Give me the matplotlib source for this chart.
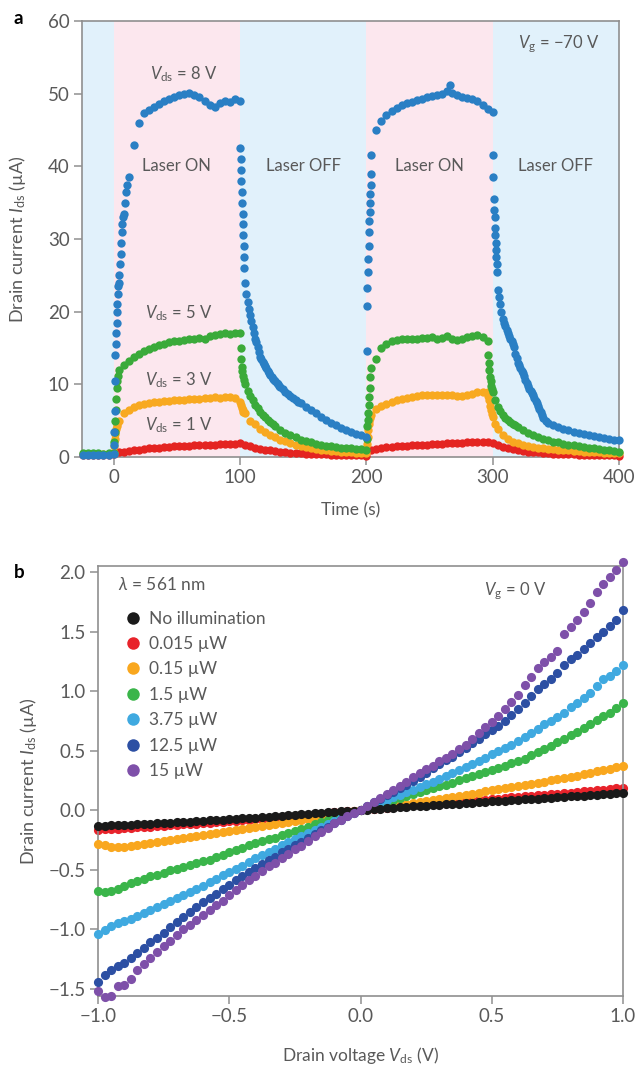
import numpy as np
import matplotlib
matplotlib.use("Agg")
import matplotlib.pyplot as plt
from matplotlib.lines import Line2D
from matplotlib.ticker import FuncFormatter

plt.rcParams["font.family"] = ["Lato", "DejaVu Sans"]
plt.rcParams["mathtext.fontset"] = "custom"
plt.rcParams["mathtext.rm"] = "Lato"
plt.rcParams["mathtext.it"] = "Lato:italic"
plt.rcParams["mathtext.fallback"] = "stixsans"

# ---------------- panel a: photocurrent vs time ----------------
t_grid = np.arange(-24, 401, 4)          # sampling instants (s)
laser_on = [(0, 100), (200, 300)]

i_8v = [0.3, 0.3, 0.25, 0.3, 0.3, 0.3,
        0.4,
        24.0, 33.5, 38.5, 43.0, 46.0, 47.3, 47.8, 48.2, 48.6, 49.0, 49.3, 49.6,
        49.8, 50.0, 50.1, 49.8, 49.6, 49.0, 48.4, 48.1, 48.7, 49.0, 48.8, 49.2,
        49.0,
        24.0, 19.5, 16.3, 13.8, 12.5, 11.3, 10.4, 9.7, 9.0, 8.4, 7.9, 7.4,
        6.9, 6.4, 6.0, 5.5, 5.1, 4.7, 4.4, 4.0, 3.7, 3.4, 3.2, 3.0,
        2.7,
        41.5, 45.0, 46.2, 47.0, 47.6, 48.0, 48.4, 48.7, 48.9, 49.1, 49.3, 49.5,
        49.7, 49.8, 50.0, 50.4, 50.1, 49.8, 49.6, 49.4, 49.2, 49.0, 48.5, 47.9,
        47.5,
        23.0, 19.0, 17.0, 15.5, 13.0, 11.5, 9.8, 8.5, 7.0, 5.4, 4.7, 4.4,
        4.1, 3.9, 3.7, 3.5, 3.35, 3.2, 3.05, 2.9, 2.8, 2.65, 2.5, 2.4,
        2.3]
i_5v = [0.5, 0.55, 0.5, 0.5, 0.45, 0.5,
        0.6,
        12.0, 12.7, 13.2, 13.8, 14.2, 14.6, 14.9, 15.2, 15.4, 15.6, 15.8, 15.9,
        16.0, 16.1, 16.2, 16.3, 16.4, 16.3, 16.7, 16.8, 16.9, 17.0, 16.9, 17.1,
        17.0,
        10.0, 8.4, 7.2, 6.2, 5.5, 4.8, 4.2, 3.7, 3.3, 3.0, 2.7, 2.4,
        2.2, 2.0, 1.8, 1.6, 1.5, 1.45, 1.4, 1.3, 1.25, 1.2, 1.1, 1.05,
        1.0,
        12.3, 13.5, 15.0, 15.6, 16.0, 16.1, 16.2, 16.3, 16.2, 16.3, 16.4, 16.4,
        16.5, 16.3, 16.4, 16.6, 16.3, 16.1, 16.2, 16.5, 16.6, 16.8, 16.5, 16.0,
        9.0,
        6.9, 5.8, 5.1, 4.6, 4.1, 3.7, 3.3, 3.0, 2.75, 2.5, 2.3, 2.1,
        2.0, 1.85, 1.7, 1.6, 1.5, 1.4, 1.3, 1.2, 1.1, 1.0, 0.9, 0.8,
        0.7]
i_3v = [0.4, 0.4, 0.45, 0.4, 0.4, 0.4,
        0.5,
        4.9, 6.0, 6.5, 6.9, 7.1, 7.3, 7.4, 7.5, 7.6, 7.7, 7.7, 7.8,
        7.9, 7.9, 8.0, 8.0, 8.0, 8.1, 8.1, 8.2, 8.1, 8.2, 8.2, 8.1,
        7.6,
        6.0, 5.0, 4.5, 3.9, 3.4, 3.0, 2.7, 2.4, 2.15, 1.9, 1.7, 1.5,
        1.35, 1.2, 1.1, 1.0, 0.9, 0.85, 0.8, 0.75, 0.7, 0.65, 0.6, 0.55,
        0.5,
        5.8, 6.6, 7.0, 7.3, 7.6, 7.8, 8.0, 8.1, 8.3, 8.4, 8.5, 8.5,
        8.6, 8.6, 8.6, 8.5, 8.6, 8.4, 8.4, 8.6, 8.7, 8.9, 9.0, 8.9,
        5.5,
        3.9, 3.0, 2.5, 2.1, 1.9, 1.7, 1.5, 1.4, 1.3, 1.2, 1.1, 1.05,
        1.0, 0.95, 0.9, 0.85, 0.8, 0.75, 0.7, 0.7, 0.65, 0.6, 0.6, 0.55,
        0.55]
i_1v = [0.3, 0.3, 0.3, 0.3, 0.3, 0.3,
        0.35,
        0.65, 0.75, 0.85, 0.95, 1.0, 1.1, 1.2, 1.25, 1.3, 1.35, 1.4, 1.45,
        1.5, 1.5, 1.55, 1.6, 1.6, 1.65, 1.7, 1.7, 1.75, 1.75, 1.8, 1.85,
        1.9,
        1.65, 1.45, 1.3, 1.15, 1.0, 0.9, 0.8, 0.7, 0.65, 0.6, 0.55, 0.5,
        0.45, 0.42, 0.4, 0.37, 0.35, 0.33, 0.3, 0.28, 0.26, 0.25, 0.23, 0.22,
        0.2,
        1.0, 1.15, 1.25, 1.35, 1.4, 1.45, 1.5, 1.55, 1.6, 1.6, 1.65, 1.7,
        1.75, 1.8, 1.85, 1.9, 1.9, 1.95, 1.95, 2.0, 2.0, 2.0, 2.05, 2.1,
        1.9,
        1.6, 1.4, 1.25, 1.1, 0.95, 0.85, 0.75, 0.7, 0.62, 0.55, 0.5, 0.46,
        0.42, 0.4, 0.37, 0.35, 0.33, 0.3, 0.28, 0.27, 0.25, 0.24, 0.22, 0.21,
        0.2]

# extra samples taken while the current changes quickly
t_8v_fast = [0.3, 0.6, 0.9, 1.2, 1.5, 1.8, 2.1, 2.4, 2.7, 3.0, 3.3, 3.6, 4.5, 5.0, 5.5,
             6.0, 6.5, 7.0, 7.5, 9.0, 10.0, 11.0,
             100.3, 100.6, 100.9, 101.2, 101.5, 101.8, 102.1, 102.4, 102.7, 103.0,
             103.3, 103.6,
             105, 106, 107, 109, 110, 111, 113, 114, 115, 117, 118, 119, 121, 122,
             123, 125, 126, 127, 129, 130, 131, 134, 138, 142, 146,
             200.3, 200.6, 200.9, 201.2, 201.5, 201.8, 202.1, 202.4, 202.7, 203.0,
             203.3, 203.6, 203.9, 266.0,
             300.3, 300.6, 300.9, 301.2, 301.5, 301.8, 302.1, 302.4, 302.7, 303.0,
             303.3, 303.6,
             305, 306, 307, 309, 310, 311, 313, 314, 315, 317, 318, 319, 321, 322,
             323, 325, 326, 327, 329, 330, 331, 333, 334, 335, 337, 338, 339, 342]
i_8v_fast = [1.7, 3.5, 6.3, 10.5, 14.0, 15.5, 17.0, 18.5, 20.0, 21.0, 22.5, 23.5, 25.0,
             26.5, 28.0, 29.5, 31.0, 32.0, 33.0, 35.0, 36.5, 37.5,
             42.5, 41.0, 39.5, 38.0, 36.5, 35.0, 33.5, 32.0, 30.5, 29.0, 27.5, 26.0,
             22.5, 21.3, 20.3, 18.7, 17.9, 17.1, 15.8, 15.2, 14.5, 13.5, 13.1, 12.8,
             12.2, 11.9, 11.6, 11.0, 10.8, 10.6, 10.2, 10.0, 9.8, 9.3, 8.7, 8.1, 7.6,
             14.6, 20.8, 23.2, 25.4, 27.2, 29.0, 30.9, 32.5, 33.7, 35.0, 36.2, 37.5,
             39.0, 51.2,
             41.5, 38.5, 35.5, 34.0, 33.0, 31.5, 30.5, 29.5, 28.5, 27.5, 26.5, 25.5,
             22.0, 21.0, 20.0, 18.5, 18.0, 17.5, 16.6, 16.2, 15.9, 15.1, 14.2, 13.6,
             12.6, 12.2, 11.9, 11.2, 10.6, 10.2, 9.4, 9.1, 8.8, 8.1, 7.7, 7.4, 6.6,
             6.2, 5.8, 4.9]
t_5v_fast = [0.4, 0.8, 1.2, 1.6, 2.0, 2.4, 2.8, 3.2,
             100.5, 101.0, 101.5, 102.0, 102.5, 103.0,
             106, 110, 114, 118, 122, 126,
             200.4, 200.8, 201.2, 201.6, 202.0, 202.4, 202.8, 203.2,
             296.5, 297.0, 297.5, 298.0, 298.5, 299.0, 299.5,
             302, 306, 310, 314, 318]
i_5v_fast = [2.0, 3.5, 5.0, 6.5, 8.0, 9.5, 10.5, 11.2,
             15.0, 13.5, 12.4, 11.8, 11.2, 10.6,
             9.1, 7.8, 6.7, 5.8, 5.1, 4.5,
             2.5, 4.2, 5.1, 6.0, 7.2, 8.3, 9.5, 11.0,
             14.1, 13.0, 12.0, 11.0, 10.5, 9.8, 9.4,
             7.9, 6.3, 5.4, 4.85, 4.35]
t_3v_fast = [0.5, 1.0, 1.5, 2.0, 2.5, 3.0,
             100.7, 101.4, 102.1, 102.8,
             200.5, 201.0, 201.5, 202.0, 202.5, 203.0,
             296.7, 297.4, 298.1, 298.8, 299.5, 302]
i_3v_fast = [1.5, 2.5, 3.2, 3.8, 4.2, 4.6,
             7.2, 6.8, 6.5, 6.2,
             1.8, 2.8, 3.7, 4.5, 5.0, 5.4,
             8.4, 7.8, 7.0, 6.4, 5.9, 4.6]

# ---------------- panel b: I-V under illumination ----------------
v_grid = np.linspace(-1.0, 1.0, 81)
iv_dark = [-0.135, -0.13, -0.128, -0.126, -0.125, -0.122, -0.12, -0.117, -0.114, -0.111,
           -0.108, -0.105, -0.102, -0.099, -0.096, -0.093, -0.09, -0.086, -0.083, -0.079,
           -0.076, -0.072, -0.069, -0.065, -0.062, -0.058, -0.054, -0.05, -0.047, -0.043,
           -0.039, -0.035, -0.031, -0.027, -0.023, -0.019, -0.015, -0.011, -0.007, -0.003,
           0.001, 0.005, 0.009, 0.013, 0.016, 0.02, 0.024, 0.027, 0.031, 0.034,
           0.038, 0.041, 0.045, 0.048, 0.052, 0.055, 0.059, 0.062, 0.066, 0.069,
           0.073, 0.076, 0.08, 0.083, 0.087, 0.09, 0.094, 0.097, 0.101, 0.104,
           0.108, 0.111, 0.115, 0.119, 0.122, 0.126, 0.13, 0.134, 0.138, 0.142, 0.146]
iv_0015 = [-0.165, -0.16, -0.157, -0.154, -0.151, -0.148, -0.145, -0.141, -0.138, -0.134,
           -0.131, -0.127, -0.123, -0.12, -0.116, -0.112, -0.108, -0.104, -0.1, -0.096,
           -0.092, -0.088, -0.084, -0.08, -0.076, -0.071, -0.067, -0.062, -0.058, -0.053,
           -0.049, -0.044, -0.039, -0.034, -0.029, -0.024, -0.019, -0.014, -0.009, -0.004,
           0.001, 0.006, 0.011, 0.016, 0.021, 0.026, 0.031, 0.035, 0.04, 0.044,
           0.049, 0.053, 0.058, 0.062, 0.067, 0.071, 0.076, 0.08, 0.085, 0.089,
           0.094, 0.098, 0.103, 0.107, 0.112, 0.116, 0.121, 0.125, 0.13, 0.134,
           0.139, 0.144, 0.148, 0.153, 0.158, 0.163, 0.168, 0.173, 0.178, 0.184, 0.19]
iv_015 = [-0.28, -0.295, -0.305, -0.31, -0.31, -0.3, -0.29, -0.283, -0.275, -0.268,
          -0.26, -0.252, -0.245, -0.237, -0.228, -0.22, -0.212, -0.203, -0.195, -0.186,
          -0.177, -0.168, -0.16, -0.151, -0.142, -0.133, -0.125, -0.116, -0.107, -0.098,
          -0.089, -0.08, -0.071, -0.062, -0.053, -0.044, -0.035, -0.026, -0.018, -0.009,
          0.0, 0.008, 0.016, 0.024, 0.032, 0.04, 0.048, 0.056, 0.064, 0.072,
          0.08, 0.089, 0.097, 0.105, 0.114, 0.122, 0.131, 0.139, 0.148, 0.157,
          0.166, 0.175, 0.184, 0.193, 0.202, 0.211, 0.221, 0.23, 0.24, 0.25,
          0.26, 0.27, 0.28, 0.291, 0.302, 0.313, 0.325, 0.337, 0.349, 0.361, 0.375]
iv_15 = [-0.68, -0.685, -0.675, -0.66, -0.64, -0.615, -0.595, -0.575, -0.555, -0.54,
         -0.525, -0.505, -0.49, -0.475, -0.46, -0.445, -0.43, -0.415, -0.395, -0.375,
         -0.355, -0.335, -0.315, -0.295, -0.275, -0.26, -0.245, -0.23, -0.21, -0.193,
         -0.176, -0.158, -0.14, -0.12, -0.1, -0.081, -0.062, -0.045, -0.028, -0.012,
         0.003, 0.018, 0.035, 0.052, 0.07, 0.088, 0.105, 0.12, 0.135, 0.15,
         0.168, 0.185, 0.2, 0.215, 0.232, 0.25, 0.268, 0.285, 0.3, 0.318,
         0.335, 0.355, 0.375, 0.395, 0.41, 0.43, 0.465, 0.49, 0.51, 0.54,
         0.57, 0.6, 0.635, 0.66, 0.69, 0.72, 0.76, 0.79, 0.82, 0.855, 0.9]
iv_375 = [-1.04, -1.01, -0.975, -0.95, -0.93, -0.91, -0.885, -0.86, -0.84, -0.815,
          -0.79, -0.765, -0.74, -0.715, -0.69, -0.66, -0.635, -0.605, -0.575, -0.545,
          -0.52, -0.49, -0.465, -0.435, -0.405, -0.38, -0.35, -0.325, -0.295, -0.27,
          -0.245, -0.22, -0.19, -0.165, -0.14, -0.115, -0.09, -0.065, -0.04, -0.018,
          0.004, 0.025, 0.045, 0.065, 0.087, 0.108, 0.13, 0.15, 0.172, 0.195,
          0.218, 0.24, 0.262, 0.285, 0.31, 0.335, 0.36, 0.385, 0.415, 0.44,
          0.47, 0.495, 0.52, 0.55, 0.58, 0.615, 0.65, 0.685, 0.72, 0.75,
          0.78, 0.82, 0.865, 0.9, 0.94, 0.98, 1.04, 1.1, 1.13, 1.17, 1.22]
iv_125 = [-1.44, -1.38, -1.34, -1.31, -1.28, -1.24, -1.2, -1.16, -1.11, -1.07,
          -1.03, -0.98, -0.94, -0.895, -0.855, -0.815, -0.775, -0.735, -0.7, -0.66,
          -0.625, -0.59, -0.555, -0.52, -0.485, -0.455, -0.42, -0.39, -0.355, -0.325,
          -0.295, -0.265, -0.235, -0.2, -0.17, -0.14, -0.11, -0.08, -0.05, -0.022,
          0.005, 0.035, 0.065, 0.095, 0.125, 0.155, 0.185, 0.215, 0.245, 0.28,
          0.315, 0.35, 0.385, 0.42, 0.45, 0.485, 0.52, 0.56, 0.6, 0.64,
          0.675, 0.71, 0.75, 0.8, 0.85, 0.9, 0.96, 1.02, 1.06, 1.1,
          1.15, 1.22, 1.27, 1.3, 1.35, 1.4, 1.45, 1.5, 1.55, 1.6, 1.68]
iv_15uw = [-1.52, -1.57, -1.56, -1.48, -1.47, -1.42, -1.34, -1.29, -1.24, -1.19,
           -1.14, -1.1, -1.05, -1.0, -0.96, -0.92, -0.88, -0.84, -0.8, -0.76,
           -0.71, -0.67, -0.63, -0.59, -0.55, -0.51, -0.47, -0.44, -0.4, -0.37,
           -0.33, -0.3, -0.26, -0.22, -0.185, -0.15, -0.11, -0.08, -0.05, -0.02,
           0.005, 0.035, 0.065, 0.1, 0.135, 0.17, 0.205, 0.24, 0.275, 0.31,
           0.345, 0.375, 0.41, 0.44, 0.475, 0.51, 0.55, 0.6, 0.65, 0.7,
           0.74, 0.79, 0.85, 0.91, 0.97, 1.05, 1.12, 1.19, 1.24, 1.29,
           1.34, 1.48, 1.54, 1.6, 1.66, 1.74, 1.83, 1.9, 1.96, 2.02, 2.08]

power_labels = ["No illumination", "0.015 \u00b5W", "0.15 \u00b5W", "1.5 \u00b5W",
                "3.75 \u00b5W", "12.5 \u00b5W", "15 \u00b5W"]

GREY = "#595959"
SPINE = "#8f8f8f"
YLAB = "Drain current $I_{\\mathrm{ds}}$ (\u00b5A)"


def style_axes(ax):
    for s in ax.spines.values():
        s.set_color(SPINE)
        s.set_linewidth(1.2)
    ax.tick_params(direction="out", length=5.5, width=1.1, color=SPINE,
                   labelcolor=GREY, labelsize=13.5, top=False, right=False)


fig = plt.figure(figsize=(6.38, 10.72), dpi=100)

# ---- panel a ----
ax = fig.add_axes([0.1285, 0.5737, 0.8417, 0.4067])
ax.set_facecolor("#e1f1fb")
for a0, a1 in laser_on:
    ax.axvspan(a0, a1, color="#fce7ee", lw=0, zorder=0)

cols_a = {"1": "#e42421", "3": "#f8a920", "5": "#3aaa3a", "8": "#2a7fc4"}
ms_a = 6.0
ax.plot(t_grid, i_1v, "o", ms=ms_a, mew=0, color=cols_a["1"], clip_on=False, zorder=3)
ax.plot(t_grid, i_3v, "o", ms=ms_a, mew=0, color=cols_a["3"], clip_on=False, zorder=3)
ax.plot(t_3v_fast, i_3v_fast, "o", ms=ms_a, mew=0, color=cols_a["3"], clip_on=False, zorder=3)
ax.plot(t_grid, i_5v, "o", ms=ms_a, mew=0, color=cols_a["5"], clip_on=False, zorder=3)
ax.plot(t_5v_fast, i_5v_fast, "o", ms=ms_a, mew=0, color=cols_a["5"], clip_on=False, zorder=3)
ax.plot(t_grid, i_8v, "o", ms=ms_a, mew=0, color=cols_a["8"], clip_on=False, zorder=3)
ax.plot(t_8v_fast, i_8v_fast, "o", ms=ms_a, mew=0, color=cols_a["8"], clip_on=False, zorder=3)

ax.set_xlim(-25, 400)
ax.set_ylim(0, 60)
ax.set_xticks([0, 100, 200, 300, 400])
ax.set_yticks([0, 10, 20, 30, 40, 50, 60])
style_axes(ax)
ax.set_xlabel("Time (s)", fontsize=12.5, color=GREY)
ax.xaxis.set_label_coords(0.5, -0.105)
ax.set_ylabel(YLAB, fontsize=13, color=GREY)
ax.yaxis.set_label_coords(-0.1, 0.5)

tk = dict(fontsize=12, color=GREY, ha="center", va="center")
ax.text(50, 40, "Laser ON", **tk)
ax.text(150, 40, "Laser OFF", **tk)
ax.text(250, 40, "Laser ON", **tk)
ax.text(350, 40, "Laser OFF", **tk)
ax.text(56, 52.7, "$V_{\\mathrm{ds}}$ = 8 V", **tk)
ax.text(52, 19.8, "$V_{\\mathrm{ds}}$ = 5 V", **tk)
ax.text(52, 10.6, "$V_{\\mathrm{ds}}$ = 3 V", **tk)
ax.text(52, 4.4, "$V_{\\mathrm{ds}}$ = 1 V", **tk)
ax.text(352, 56.8, "$V_{\\mathrm{g}}$ = \u221270 V", **tk)

# ---- panel b ----
ax = fig.add_axes([0.1536, 0.0709, 0.8229, 0.4011])
cols_b = ["#1a1a1a", "#e8232b", "#f9a71e", "#3ab54a", "#3fa9e0", "#2c4fa3", "#7e50a9"]
series_b = [iv_dark, iv_0015, iv_015, iv_15, iv_375, iv_125, iv_15uw]
z_b = [8, 2, 3, 4, 5, 6, 9]
ms_b = 6.6
for ys, c, z in zip(series_b, cols_b, z_b):
    ax.plot(v_grid, ys, "o", ms=ms_b, mew=0, color=c, zorder=z, clip_on=False)

ax.set_xlim(-1.0, 1.0)
ax.set_ylim(-1.56, 2.05)
ax.set_xticks([-1.0, -0.5, 0.0, 0.5, 1.0])
ax.set_yticks([-1.5, -1.0, -0.5, 0.0, 0.5, 1.0, 1.5, 2.0])
fmt = FuncFormatter(lambda v, _: ("%.1f" % v).replace("-", "\u2212"))
ax.xaxis.set_major_formatter(fmt)
ax.yaxis.set_major_formatter(fmt)
style_axes(ax)
ax.set_xlabel("Drain voltage $V_{\\mathrm{ds}}$ (V)", fontsize=12.5, color=GREY)
ax.xaxis.set_label_coords(0.5, -0.113)
ax.set_ylabel(YLAB, fontsize=13, color=GREY)
ax.yaxis.set_label_coords(-0.113, 0.5)
ax.text(0.59, 1.84, "$V_{\\mathrm{g}}$ = 0 V", **tk)
ax.text(0.038, 0.956, "$\\lambda$ = 561 nm", transform=ax.transAxes,
        fontsize=12.5, color=GREY, ha="left", va="center")

handles = [Line2D([], [], ls="none", marker="o", ms=9, mew=0, color=c) for c in cols_b]
leg = ax.legend(handles, power_labels, loc="upper left", frameon=False,
                bbox_to_anchor=(0.04, 0.896), borderaxespad=0, borderpad=0,
                fontsize=12.5, handletextpad=0.1,
                labelspacing=0.54, handlelength=1.6)
for txt in leg.get_texts():
    txt.set_color(GREY)

fig.text(14 / 638, 1 - 18 / 1072, "a", fontsize=13.5, fontweight="bold", va="center")
fig.text(14 / 638, 1 - 573 / 1072, "b", fontsize=13.5, fontweight="bold", va="center")

fig.savefig("out.png", dpi=100)
